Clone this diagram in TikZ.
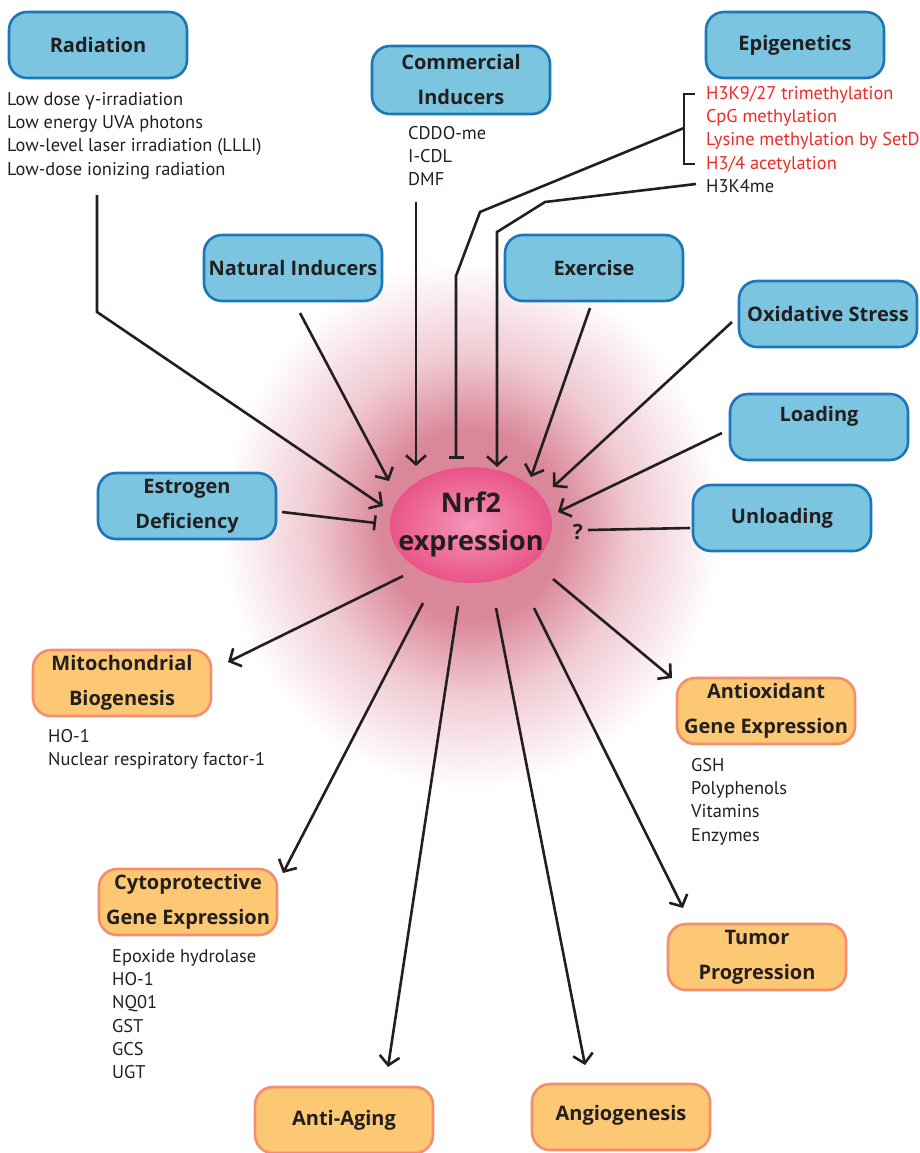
\documentclass[tikz,border=0pt]{standalone}
\usepackage{fontspec}
\setmainfont{PT Sans}
\newfontfamily\grk{Open Sans}
\newfontfamily\labfont{Open Sans}
\usetikzlibrary{arrows.meta,shapes.geometric}
\definecolor{boxblue}{HTML}{7CC5E1}
\definecolor{edgeblue}{HTML}{1C76BA}
\definecolor{boxorange}{HTML}{FDC874}
\definecolor{edgeorange}{HTML}{F68D6E}
\definecolor{ink}{HTML}{231F20}
\definecolor{epired}{HTML}{F02A27}
\definecolor{glowA}{HTML}{DA8799}
\definecolor{glowB}{HTML}{F0CAD3}
\definecolor{nrfin}{HTML}{F596BA}
\definecolor{nrfout}{HTML}{EA5488}
\pgfdeclareradialshading{nrfglow}{\pgfpoint{0bp}{0bp}}{color(0bp)=(glowA); color(9bp)=(glowA); color(16bp)=(glowB); color(25bp)=(white); color(50bp)=(white)}
\tikzset{
 bluebox/.style={draw=edgeblue, fill=boxblue, line width=2.6pt, rounded corners=18pt, minimum width=178pt, minimum height=66pt, align=center, font=\labfont\bfseries\fontsize{20}{35}\selectfont, text=ink, inner sep=0pt},
 orangebox/.style={bluebox, draw=edgeorange, fill=boxorange},
 list/.style={anchor=north west, align=left, inner sep=0pt, font=\fontsize{18.4}{23.3}\selectfont, text=ink},
 conn/.style={draw=ink, line width=2.6pt},
 arr/.style={conn, -{Straight Barb[length=9pt,width=20pt]}},
 inh/.style={conn, -{Bar[width=15pt]}},
}
\begin{document}
\begin{tikzpicture}[x=1pt,y=-1pt]
\useasboundingbox (0,0) rectangle (920,1153);
% glow
\shade[shading=nrfglow] (471,525) ellipse [x radius=250pt, y radius=265pt];
\shade[inner color=nrfin, outer color=nrfout] (471,525) ellipse [x radius=81pt, y radius=58pt];
\node[inner sep=0pt, align=center, font=\labfont\bfseries\fontsize{27}{38}\selectfont, text=ink] (nrf) at (471,524) {Nrf2\\expression};

% blue boxes
\node[bluebox] (rad) at (98,45) {Radiation};
\node[bluebox, minimum height=68pt] (com) at (461,80) {Commercial\\Inducers};
\node[bluebox] (epi) at (795,45) {Epigenetics};
\node[bluebox] (nat) at (293,268) {Natural Inducers};
\node[bluebox] (exe) at (594,268) {Exercise};
\node[bluebox] (oxi) at (828,314) {Oxidative Stress};
\node[bluebox] (loa) at (819,427) {\raisebox{26pt}{Loading}};
\node[bluebox] (unl) at (782,518) {Unloading};
\node[bluebox] (est) at (187,506) {Estrogen\\Deficiency};
% orange boxes
\node[orangebox] (mit) at (122,683) {Mitochondrial\\Biogenesis};
\node[orangebox] (ant) at (766,711) {Antioxidant\\Gene Expression};
\node[orangebox] (cyt) at (188,902) {Cytoprotective\\Gene Expression};
\node[orangebox] (tum) at (757,957) {Tumor\\Progression};
\node[orangebox] (age) at (344,1120) {Anti-Aging};
\node[orangebox] (ang) at (621,1117) {\raisebox{8pt}{Angiogenesis}};

% lists
\node[list] (radL) at (7,92) {Low dose {\grk γ}-irradiation\\Low energy UVA photons\\Low-level laser irradiation (LLLI)\\Low-dose ionizing radiation};
\node[list] (comL) at (408,126) {CDDO-me\\I-CDL\\DMF};
\node[list] (epiL) at (706,86) {{\color{epired}H3K9/27 trimethylation}\\{\color{epired}CpG methylation}\\{\color{epired}Lysine methylation by SetD}\\{\color{epired}H3/4 acetylation}\\H3K4me};
\node[list] (mitL) at (48,729) {HO-1\\Nuclear respiratory factor-1};
\node[list] (antL) at (691,758) {GSH\\Polyphenols\\Vitamins\\Enzymes};
\node[list] (cytL) at (112,949) {Epoxide hydrolase\\HO-1\\NQ01\\GST\\GCS\\UGT};
\node[text=ink, font=\labfont\bfseries\fontsize{21}{24}\selectfont, inner sep=0pt] (q) at (578,532) {?};

% coordinates
\coordinate (radA) at (97,195); \coordinate (radB) at (97,312); \coordinate (radT) at (383,506);
\coordinate (comA) at (416,202); \coordinate (comT) at (416,466);
\coordinate (natA) at (300,313); \coordinate (natT) at (389,481);
\coordinate (brT) at (695,94); \coordinate (brTL) at (684,94); \coordinate (brBL) at (684,164); \coordinate (brB) at (695,164);
\coordinate (brM) at (684,128); \coordinate (epB1) at (480,212); \coordinate (epB2) at (456,276); \coordinate (epT) at (456,459);
\coordinate (h4A) at (696,184); \coordinate (h4B) at (545,202); \coordinate (h4C) at (497,232); \coordinate (h4T) at (497,467);
\coordinate (exeA) at (590,308); \coordinate (exeT) at (531,477);
\coordinate (oxiA) at (732,322); \coordinate (oxiT) at (553,487);
\coordinate (loaA) at (722,433); \coordinate (loaT) at (558,512);
\coordinate (unlA) at (690,528); \coordinate (unlT) at (588,530);
\coordinate (estA) at (282,512); \coordinate (estT) at (376,523);
\coordinate (o1) at (403,576); \coordinate (mitT) at (228,662);
\coordinate (o2) at (423,603); \coordinate (cytT) at (283,873);
\coordinate (o3) at (458,606); \coordinate (ageT) at (388,1067);
\coordinate (o4) at (496,608); \coordinate (angT) at (585,1065);
\coordinate (o5) at (534,608); \coordinate (tumT) at (683,908);
\coordinate (o6) at (553,579); \coordinate (antT) at (672,678);

% incoming
\draw[arr] (radA) -- (radB) -- (radT);
\draw[arr] (comA) -- (comT);
\draw[arr] (natA) -- (natT);
\draw[conn] (brT) -- (brTL) -- (brBL) -- (brB);
\draw[inh] (brM) -- (epB1) -- (epB2) -- (epT);
\draw[arr] (h4A) -- (h4B) -- (h4C) -- (h4T);
\draw[arr] (exeA) -- (exeT);
\draw[arr] (oxiA) -- (oxiT);
\draw[arr] (loaA) -- (loaT);
\draw[conn] (unlA) -- (unlT);
\draw[inh] (estA) -- (estT);
% outgoing
\draw[arr] (o1) -- (mitT);
\draw[arr] (o2) -- (cytT);
\draw[arr] (o3) -- (ageT);
\draw[arr] (o4) -- (angT);
\draw[arr] (o5) -- (tumT);
\draw[arr] (o6) -- (antT);
\end{tikzpicture}
\end{document}
